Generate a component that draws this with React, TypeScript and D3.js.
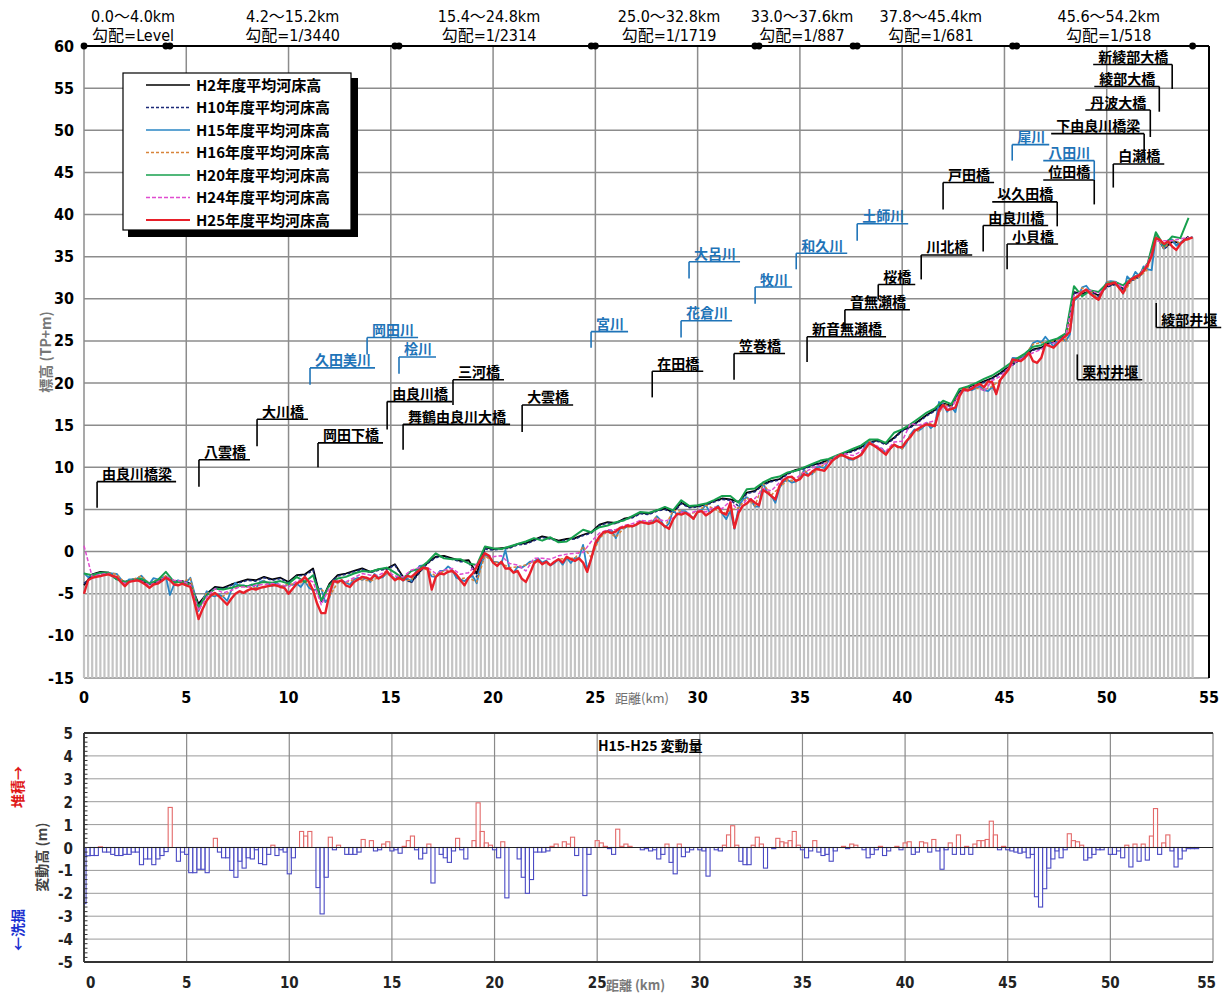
import React from "react";
import * as d3 from "d3";

// ---- river-bed profiles (T.P. m) ----
// H25 and the H15→H25 change are sampled every 0.2 km (0.0 … 54.2 km)
const FINE_STEP = 0.2;
const H25: number[] = [
  -5.0, -3.4, -3.1, -3.0, -2.9, -2.8, -2.7, -2.9, -3.0, -3.6,
  -4.1, -3.6, -3.5, -3.4, -3.6, -3.9, -4.3, -3.9, -3.8, -3.5,
  -3.1, -3.4, -3.9, -4.0, -3.8, -4.0, -4.2, -6.0, -8.0, -6.8,
  -5.8, -5.2, -4.9, -5.3, -5.8, -6.3, -5.6, -5.0, -4.7, -4.9,
  -4.6, -4.4, -4.5, -4.3, -4.2, -4.1, -4.0, -4.0, -4.2, -4.3,
  -5.0, -4.4, -3.8, -3.5, -3.0, -3.6, -4.6, -6.2, -7.3, -7.3,
  -5.0, -3.5, -3.6, -3.4, -4.0, -4.2, -3.6, -3.3, -3.0, -3.1,
  -3.3, -2.8, -3.2, -2.9, -2.3, -2.9, -3.4, -3.1, -3.4, -2.9,
  -3.0, -2.6, -2.2, -1.9, -2.0, -4.5, -3.0, -2.6, -2.7, -2.4,
  -2.3, -2.7, -3.4, -4.0, -3.1, -2.6, -1.8, -0.9, -0.2, -0.5,
  -1.3, -1.7, -1.2, -2.0, -2.0, -2.5, -2.3, -3.2, -3.6, -2.6,
  -1.4, -1.0, -1.5, -1.2, -1.6, -1.2, -0.9, -1.3, -0.6, -0.9,
  -1.1, -0.8, -1.3, -2.4, -0.8, 1.0, 1.8, 2.3, 2.4, 2.2,
  2.4, 2.8, 2.9, 3.1, 3.0, 3.2, 3.5, 3.4, 3.3, 3.4,
  3.7, 3.4, 3.0, 2.7, 3.8, 4.5, 4.4, 4.6, 4.3, 3.9,
  4.7, 4.8, 4.3, 4.6, 5.0, 5.3, 4.6, 4.4, 5.8, 2.8,
  4.6, 5.4, 5.7, 6.2, 5.8, 5.5, 7.3, 7.0, 6.6, 6.2,
  7.8, 8.5, 8.8, 8.9, 8.4, 8.6, 9.2, 9.0, 9.5, 9.8,
  9.7, 9.6, 10.2, 10.8, 11.2, 11.5, 11.3, 11.1, 11.0, 11.2,
  11.5, 12.2, 12.9, 12.6, 12.3, 11.9, 11.5, 12.2, 12.7, 12.4,
  12.4, 13.1, 13.6, 14.3, 14.6, 14.9, 15.1, 15.0, 14.9, 16.8,
  17.4, 16.8, 16.9, 17.1, 18.4, 19.3, 19.1, 19.3, 19.7, 19.9,
  19.5, 20.2, 20.1, 18.7, 20.4, 21.0, 21.6, 22.8, 22.7, 22.6,
  23.0, 23.6, 22.6, 22.4, 23.0, 24.6, 24.4, 24.2, 24.7, 25.2,
  25.6, 26.1, 30.0, 30.3, 30.8, 31.1, 30.6, 30.2, 29.9, 30.9,
  31.7, 31.8, 31.9, 31.3, 30.7, 31.8, 32.3, 32.6, 32.8, 33.3,
  34.0, 35.1, 37.2, 37.0, 36.5, 36.8, 36.2, 35.8, 36.5, 37.0,
  37.1, 37.3,
];

// bed change H15 → H25 (m), + = deposition, − = scour
const CHANGE_H15_H25: number[] = [
  -2.45, -0.36, -0.35, -0.35, 0.03, -0.2, -0.2, -0.3, -0.35, -0.35,
  -0.3, -0.3, -0.2, -0.2, -0.75, -0.5, -0.5, -0.75, -0.5, -0.35,
  -0.18, 1.75, 0, -0.6, -0.2, -0.3, -1.1, -1.1, -0.95, -0.95,
  -1.1, 0, 0.4, -0.2, -0.45, -0.45, -1.0, -1.3, -0.6, -0.9,
  -0.45, -0.5, -0.1, -0.7, -0.75, -0.3, 0.1, -0.35, -0.1, -0.2,
  -1.15, -0.45, 0, 0.7, 0.5, 0.7, 0, -1.75, -2.9, -1.3,
  0.45, -0.1, 0.1, 0, -0.3, -0.3, -0.3, -0.2, 0.35, 0,
  0.3, -0.15, -0.1, 0.15, 0.25, -0.15, -0.1, -0.25, 0.05, 0.3,
  0.5, -0.1, -0.5, -0.25, 0.15, -1.55, 0, -0.3, -0.45, -0.65,
  -0.15, 0.4, -0.1, -0.5, 0, 0.3, 1.95, 0.7, 0.2, 0.1,
  -0.1, -0.45, 0.25, -2.2, 0, 0, -0.5, -1.3, -2.0, -1.4,
  -0.2, -0.2, -0.2, -0.15, 0.05, 0.15, 0, 0.25, 0.15, 0.45,
  -0.35, 0, -2.1, -0.3, 0, 0.3, 0.2, 0.05, -0.05, -0.3,
  0.8, 0.05, 0.15, 0.05, 0, 0, -0.1, -0.05, -0.15, -0.1,
  -0.5, -0.3, 0.15, -0.65, -1.15, 0.15, -0.4, -0.2, -0.1, 0,
  -0.1, -0.15, -1.25, 0, -0.1, -0.15, 0.1, 0.55, 0.95, 0.1,
  -0.6, -0.75, -0.75, 0.1, 0.45, 0.15, -0.9, 0, -0.05, 0.4,
  0.25, 0.2, 0.3, 0.7, 0.1, -0.1, -0.45, -0.15, 0.3, -0.2,
  -0.35, -0.3, -0.6, -0.15, 0, 0.05, -0.05, 0.15, 0.1, 0,
  -0.1, -0.45, -0.3, -0.1, 0.05, -0.35, -0.15, 0, 0.05, -0.1,
  0.2, 0.25, -0.3, -0.2, 0.25, 0.2, -0.2, 0.35, -0.15, -0.95,
  -0.1, 0.2, -0.3, 0.55, -0.3, 0.05, -0.3, 0.15, 0.3, 0.3,
  0.35, 1.15, 0.55, -0.1, 0.05, -0.1, -0.15, -0.2, -0.25, -0.2,
  -0.45, -0.3, -2.15, -2.6, -1.8, -0.9, -0.5, -0.15, -0.45, -0.1,
  0.6, 0.3, 0.25, 0.1, -0.55, -0.45, -0.3, -0.1, -0.1, 0,
  -0.3, -0.3, -0.15, -0.45, 0.1, -0.85, 0.15, -0.6, 0.15, -0.55,
  0.5, 1.7, -0.3, 0.2, 0.55, -0.15, -0.85, -0.5, -0.15, -0.05,
  -0.05, -0.05,
];

// H15 bed = H25 bed minus the surveyed change
const H15: number[] = H25.map((v, i) => +(v - CHANGE_H15_H25[i]).toFixed(2));

// other survey years, sampled every 0.4 km (0.0 … 54.0 km)
const COARSE_STEP = 0.4;
const H2: number[] = [
  -4.0, -2.7, -2.4, -2.5, -3.2, -3.6, -3.3, -3.4, -3.9, -3.5,
  -3.0, -3.5, -3.5, -3.8, -6.2, -5.0, -4.2, -4.3, -3.9, -3.6,
  -3.3, -3.4, -3.0, -3.3, -3.1, -3.6, -2.8, -2.7, -2.0, -5.9,
  -3.8, -2.8, -2.6, -2.3, -2.0, -2.4, -2.1, -2.0, -1.5, -3.0,
  -3.6, -2.4, -1.3, -0.6, -0.5, -0.8, -1.1, -1.0, -2.6, 0.5,
  0.3, 0.4, 0.5, 0.9, 1.0, 1.4, 1.8, 1.6, 1.3, 1.5,
  1.6, 2.0, 2.3, 3.2, 3.5, 3.4, 3.9, 4.1, 4.6, 4.5,
  4.9, 5.1, 4.7, 5.8, 5.3, 5.4, 5.6, 6.0, 6.3, 6.2,
  5.9, 7.0, 7.2, 8.0, 8.4, 8.6, 9.3, 9.7, 9.9, 10.3,
  10.5, 10.9, 11.2, 11.7, 12.0, 12.4, 13.0, 13.2, 12.8, 13.5,
  14.4, 14.8, 15.5, 16.2, 16.8, 17.6, 17.3, 19.0, 19.4, 19.8,
  20.2, 20.6, 21.2, 21.9, 22.6, 23.3, 24.0, 24.2, 24.8, 25.1,
  25.8, 30.8, 30.6, 30.9, 30.4, 31.5, 31.8, 31.2, 32.2, 32.7,
  34.0, 37.6, 36.0, 36.8, 36.6, 37.4,
];
const H10: number[] = [
  -3.8, -2.8, -2.5, -2.6, -3.3, -3.7, -3.4, -3.4, -4.0, -3.6,
  -3.1, -3.6, -3.6, -3.9, -6.4, -5.1, -4.3, -4.4, -4.0, -3.7,
  -3.4, -3.5, -3.1, -3.4, -3.2, -3.7, -2.9, -2.8, -2.2, -6.0,
  -3.9, -2.9, -2.7, -2.4, -2.1, -2.5, -2.2, -2.1, -1.6, -3.1,
  -3.7, -2.5, -1.4, -0.7, -0.6, -0.9, -1.2, -1.2, -3.0, 0.3,
  0.2, 0.3, 0.4, 0.8, 0.9, 1.3, 1.7, 1.5, 1.2, 1.4,
  1.5, 1.9, 2.2, 3.1, 3.4, 3.3, 3.8, 4.0, 4.5, 4.4,
  4.8, 5.0, 4.6, 5.7, 5.2, 5.3, 5.5, 5.9, 6.2, 6.1,
  5.4, 6.9, 7.1, 7.9, 8.3, 8.5, 9.2, 9.6, 9.8, 10.2,
  10.4, 10.8, 11.1, 11.6, 11.9, 12.3, 12.9, 13.1, 12.7, 13.4,
  14.3, 14.7, 15.4, 16.1, 16.7, 17.5, 17.2, 18.9, 19.3, 19.7,
  20.1, 20.5, 21.1, 21.8, 22.5, 23.2, 23.9, 24.1, 24.7, 25.0,
  25.7, 30.7, 30.5, 30.8, 30.3, 31.4, 31.7, 31.1, 32.1, 32.6,
  33.9, 37.5, 35.9, 36.7, 36.5, 37.3,
];
const H16: number[] = [
  -2.6, -2.8, -2.9, -2.5, -2.7, -3.7, -3.3, -2.9, -3.8, -3.3,
  -2.9, -3.8, -3.6, -3.2, -7.0, -4.8, -5.2, -5.3, -4.6, -4.1,
  -4.2, -4.3, -3.5, -4.0, -4.1, -3.9, -3.8, -3.5, -4.5, -4.5,
  -5.3, -3.7, -3.7, -3.3, -3.3, -3.5, -3.1, -2.6, -3.2, -3.4,
  -3.4, -1.8, -2.2, -2.9, -2.3, -2.2, -3.2, -3.1, -3.6, -0.5,
  -1.2, -1.4, -1.9, -1.8, -1.6, -1.2, -1.3, -1.6, -0.9, -0.8,
  -0.8, 0.6, -0.7, 1.6, 2.4, 1.7, 2.8, 3.0, 3.6, 3.4,
  4.1, 2.9, 4.9, 4.8, 4.4, 4.8, 5.5, 5.1, 4.5, 4.9,
  5.2, 6.4, 5.4, 8.1, 6.7, 7.6, 8.5, 8.3, 9.6, 9.2,
  10.0, 10.8, 11.2, 11.4, 10.9, 11.6, 13.1, 12.3, 11.7, 12.6,
  12.2, 13.9, 14.4, 15.3, 15.1, 17.5, 17.2, 18.7, 19.4, 19.4,
  19.2, 19.6, 20.4, 21.8, 22.9, 23.4, 24.6, 24.8, 24.9, 25.1,
  25.0, 29.8, 31.3, 30.9, 30.0, 32.0, 32.0, 30.6, 32.1, 32.6,
  33.5, 37.5, 36.0, 37.0, 36.6, 37.1,
];
const H20: number[] = [
  -2.6, -2.8, -2.5, -2.5, -3.3, -3.6, -3.4, -3.2, -3.8, -3.4,
  -2.4, -3.6, -3.6, -3.9, -6.6, -5.2, -4.4, -4.5, -4.3, -4.0,
  -4.1, -3.8, -3.6, -3.7, -3.5, -3.8, -3.0, -3.6, -2.8, -5.8,
  -4.0, -3.2, -3.0, -2.6, -2.3, -2.4, -2.1, -1.9, -2.5, -3.2,
  -2.3, -2.0, -1.2, -0.2, -0.8, -0.9, -0.9, -1.4, -1.6, 0.6,
  0.4, 0.3, 0.6, 0.9, 1.2, 1.6, 1.3, 1.7, 1.1, 1.2,
  1.9, 2.6, 2.3, 2.9, 3.1, 3.5, 3.7, 4.2, 4.7, 4.6,
  4.9, 5.3, 4.9, 6.1, 5.4, 5.5, 5.7, 6.1, 6.6, 6.6,
  5.8, 7.4, 7.5, 8.2, 8.7, 8.9, 9.4, 9.6, 10.0, 10.4,
  10.8, 11.0, 11.4, 11.8, 12.2, 12.6, 13.3, 13.3, 12.9, 14.1,
  14.5, 15.1, 15.8, 16.5, 17.0, 17.9, 17.5, 19.3, 19.6, 20.0,
  20.5, 20.9, 21.5, 22.2, 22.9, 23.5, 24.3, 24.5, 25.0, 25.3,
  25.9, 31.5, 30.3, 31.0, 30.8, 31.8, 32.0, 31.6, 32.4, 32.9,
  34.2, 37.9, 36.3, 37.4, 37.2, 39.6,
];
const H24: number[] = [
  0.7, -3.0, -2.7, -2.6, -3.1, -3.8, -3.4, -3.5, -4.0, -3.6,
  -3.0, -3.4, -3.5, -3.9, -7.0, -5.4, -4.4, -4.9, -4.6, -4.2,
  -4.2, -4.0, -3.9, -3.8, -3.9, -4.2, -3.5, -3.2, -3.6, -6.3,
  -4.3, -3.4, -3.6, -3.1, -2.6, -2.8, -2.8, -2.3, -2.9, -3.0,
  -2.2, -1.9, -1.9, -2.6, -2.2, -2.0, -2.7, -2.5, -1.5, -0.3,
  -0.6, -0.5, -1.4, -1.6, -2.3, -0.8, -0.8, -0.9, -0.5, -0.3,
  -0.2, -0.1, 1.2, 2.2, 2.6, 2.6, 3.1, 3.3, 3.7, 3.6,
  3.9, 3.6, 4.0, 4.7, 4.5, 4.9, 4.7, 5.3, 5.1, 6.0,
  4.8, 6.2, 6.3, 7.5, 7.2, 8.2, 8.9, 8.7, 9.4, 9.9,
  10.3, 10.5, 11.4, 11.6, 11.4, 11.9, 12.9, 12.5, 11.9, 13.0,
  13.1, 15.2, 15.0, 15.3, 15.5, 17.3, 17.0, 18.7, 19.2, 19.8,
  19.0, 20.3, 20.8, 21.8, 22.6, 23.1, 23.6, 24.0, 24.6, 24.9,
  25.7, 30.4, 30.9, 31.0, 30.6, 31.5, 32.0, 31.3, 32.4, 32.9,
  34.2, 36.8, 36.9, 36.9, 37.1, 37.3,
];

// ---- gradient sections along the top ----
const GRADE_BREAKS_KM = [0, 4.0, 4.2, 15.2, 15.4, 24.8, 25.0, 32.8, 33.0, 37.6, 37.8, 45.4, 45.6, 54.2];
const GRADE_RANGES = ["0.0～4.0km", "4.2～15.2km", "15.4～24.8km", "25.0～32.8km", "33.0～37.6km", "37.8～45.4km", "45.6～54.2km"];
const GRADE_SLOPES = ["勾配=Level", "勾配=1/3440", "勾配=1/2314", "勾配=1/1719", "勾配=1/887", "勾配=1/681", "勾配=1/518"];
const GRADE_LABEL_KM = [2.4, 10.2, 19.8, 28.6, 35.1, 41.4, 50.1];

// ---- bridges / weirs (black) and tributaries (blue) ----
// km: leader position, from: leader start elevation, to: underline elevation, side: text side
type Mark = { name: string; km: number; from: number; to: number; side: "L" | "R" };
const BRIDGES: Mark[] = [
  { name: "由良川橋梁", km: 0.64, from: 5.2, to: 8.3, side: "L" },
  { name: "八雲橋", km: 5.62, from: 7.7, to: 10.9, side: "L" },
  { name: "大川橋", km: 8.46, from: 12.5, to: 15.7, side: "L" },
  { name: "岡田下橋", km: 11.44, from: 10.0, to: 12.9, side: "L" },
  { name: "由良川橋", km: 14.82, from: 14.5, to: 17.8, side: "L" },
  { name: "舞鶴由良川大橋", km: 15.6, from: 12.1, to: 15.1, side: "L" },
  { name: "三河橋", km: 18.04, from: 17.4, to: 20.4, side: "L" },
  { name: "大雲橋", km: 21.42, from: 14.2, to: 17.4, side: "L" },
  { name: "在田橋", km: 27.78, from: 18.3, to: 21.4, side: "L" },
  { name: "笠巻橋", km: 31.78, from: 20.4, to: 23.5, side: "L" },
  { name: "新音無瀬橋", km: 35.35, from: 22.5, to: 25.5, side: "L" },
  { name: "音無瀬橋", km: 37.2, from: 26.3, to: 28.7, side: "L" },
  { name: "桜橋", km: 38.83, from: 29.9, to: 31.7, side: "L" },
  { name: "川北橋", km: 40.93, from: 32.3, to: 35.2, side: "L" },
  { name: "戸田橋", km: 42.0, from: 40.6, to: 43.8, side: "L" },
  { name: "由良川橋", km: 43.96, from: 35.6, to: 38.7, side: "L" },
  { name: "小貝橋", km: 45.13, from: 33.5, to: 36.5, side: "L" },
  { name: "以久田橋", km: 47.58, from: 38.6, to: 41.5, side: "R" },
  { name: "位田橋", km: 49.39, from: 41.2, to: 44.1, side: "R" },
  { name: "白瀬橋", km: 50.32, from: 43.2, to: 46.0, side: "L" },
  { name: "下由良川橋梁", km: 51.83, from: 46.2, to: 49.6, side: "R" },
  { name: "丹波大橋", km: 52.13, from: 49.2, to: 52.4, side: "R" },
  { name: "綾部大橋", km: 52.57, from: 52.2, to: 55.2, side: "R" },
  { name: "新綾部大橋", km: 53.2, from: 54.9, to: 57.8, side: "R" },
  { name: "栗村井堰", km: 48.56, from: 23.4, to: 20.4, side: "L" },
  { name: "綾部井堰", km: 52.42, from: 29.5, to: 26.6, side: "L" },
];
const TRIBUTARIES: Mark[] = [
  { name: "久田美川", km: 11.05, from: 19.8, to: 21.8, side: "L" },
  { name: "岡田川", km: 13.84, from: 23.4, to: 25.4, side: "L" },
  { name: "桧川", km: 15.4, from: 21.1, to: 23.1, side: "L" },
  { name: "宮川", km: 24.79, from: 24.2, to: 26.1, side: "L" },
  { name: "花倉川", km: 29.19, from: 25.4, to: 27.4, side: "L" },
  { name: "大呂川", km: 29.58, from: 32.4, to: 34.4, side: "L" },
  { name: "牧川", km: 32.81, from: 29.4, to: 31.4, side: "L" },
  { name: "和久川", km: 34.82, from: 33.5, to: 35.4, side: "L" },
  { name: "土師川", km: 37.8, from: 36.9, to: 38.9, side: "L" },
  { name: "犀川", km: 45.38, from: 46.4, to: 48.3, side: "L" },
  { name: "八田川", km: 49.39, from: 44.1, to: 46.4, side: "R" },
];

const MAIN_Y_TICKS = [60, 55, 50, 45, 40, 35, 30, 25, 20, 15, 10, 5, 0, -5, -10, -15];
const X_TICKS = [0, 5, 10, 15, 20, 25, 30, 35, 40, 45, 50, 55];
const LOW_Y_TICKS = [5, 4, 3, 2, 1, 0, -1, -2, -3, -4, -5];

type Series = { name: string; values: number[]; step: number; color: string; width: number; dash?: string };
const SERIES: Series[] = [
  { name: "H2年度平均河床高", values: H2, step: COARSE_STEP, color: "#000000", width: 1.8 },
  { name: "H10年度平均河床高", values: H10, step: COARSE_STEP, color: "#1c2a78", width: 1.6, dash: "3,2" },
  { name: "H15年度平均河床高", values: H15, step: FINE_STEP, color: "#2a86c4", width: 1.8 },
  { name: "H16年度平均河床高", values: H16, step: COARSE_STEP, color: "#d8843a", width: 1.5, dash: "3,2" },
  { name: "H20年度平均河床高", values: H20, step: COARSE_STEP, color: "#17a04e", width: 2.0 },
  { name: "H24年度平均河床高", values: H24, step: COARSE_STEP, color: "#e04cd0", width: 1.5, dash: "4,2" },
  { name: "H25年度平均河床高", values: H25, step: FINE_STEP, color: "#e8202a", width: 2.4 },
];

const JP = "'Noto Sans CJK JP', 'Noto Sans', sans-serif";
const NARROW = "'Liberation Sans Narrow', 'DejaVu Sans Condensed', 'Noto Sans CJK JP', sans-serif";
const HEAVY = "'DejaVu Sans Condensed', 'DejaVu Sans', sans-serif";

export default function App() {
  const W = 1229;
  const H = 993;

  const x = d3.scaleLinear().domain([0, 55]).range([84, 1209]);
  const y = d3.scaleLinear().domain([-15, 60]).range([678, 46]);
  const xL = d3.scaleLinear().domain([0, 55]).range([84, 1213]);
  const yL = d3.scaleLinear().domain([-5, 5]).range([962, 733]);

  const gridColor = "#8c8c8c";

  const linePath = (s: Series) =>
    d3
      .line<number>()
      .x((_, i) => x(i * s.step))
      .y((d) => y(d))(s.values) || "";

  const leader = (m: Mark, color: string, key: string) => {
    const vx = x(m.km);
    const y1 = y(m.from);
    const y2 = y(m.to);
    const w = m.name.length * 14 + 9;
    const x0 = m.side === "L" ? vx : vx - w;
    const x1 = m.side === "L" ? vx + w : vx;
    return (
      <g key={key}>
        <line x1={vx} x2={vx} y1={y1} y2={y2} stroke={color} strokeWidth={1.6} />
        <line x1={x0} x2={x1} y1={y2} y2={y2} stroke={color} strokeWidth={1.6} />
        <text
          x={m.side === "L" ? vx + 5 : vx - 4}
          y={y2 - 2.5}
          textAnchor={m.side === "L" ? "start" : "end"}
          fontFamily={JP}
          fontWeight={700}
          fontSize={14}
          fill={color}
        >
          {m.name}
        </text>
      </g>
    );
  };

  const lowMinor = d3.range(-5, 5.001, 0.2);

  return (
    <svg
      width={W}
      height={H}
      viewBox={`0 0 ${W} ${H}`}
      style={{ position: "absolute", left: 0, top: 0, background: "#fff" }}
    >
      <rect x={0} y={0} width={W} height={H} fill="#fff" />

      {/* ===== longitudinal profile ===== */}
      <g>
        {MAIN_Y_TICKS.map((t) => (
          <line key={`hy${t}`} x1={x(0)} x2={x(55)} y1={y(t)} y2={y(t)} stroke={gridColor} strokeWidth={1.5} />
        ))}
        {X_TICKS.map((t) => (
          <line key={`vx${t}`} x1={x(t)} x2={x(t)} y1={y(60)} y2={y(-15)} stroke={gridColor} strokeWidth={1.5} />
        ))}

        {/* river-bed columns under the H25 profile */}
        {H25.map((v, i) => (
          <rect
            key={`col${i}`}
            x={x(i * FINE_STEP) - 1.1}
            y={y(v)}
            width={2.2}
            height={y(-15) - y(v)}
            fill="#c4c4c4"
          />
        ))}

        {SERIES.map((s) => (
          <path
            key={s.name}
            d={linePath(s)}
            fill="none"
            stroke={s.color}
            strokeWidth={s.width}
            strokeDasharray={s.dash}
            strokeLinejoin="round"
          />
        ))}

        {/* frame: top and right edges in black */}
        <line x1={x(0)} x2={x(55)} y1={y(60)} y2={y(60)} stroke="#000" strokeWidth={2} />
        <line x1={x(55)} x2={x(55)} y1={y(60)} y2={y(-15)} stroke="#000" strokeWidth={2} />

        {GRADE_BREAKS_KM.map((k, i) => (
          <circle key={`gb${i}`} cx={x(k)} cy={y(60)} r={3.4} fill="#000" />
        ))}
        {GRADE_RANGES.map((r, i) => (
          <g key={`gr${i}`}>
            <text x={x(GRADE_LABEL_KM[i])} y={22} textAnchor="middle" fontFamily={NARROW} fontSize={16} fill="#000">
              {r}
            </text>
            <text x={x(GRADE_LABEL_KM[i])} y={41} textAnchor="middle" fontFamily={NARROW} fontSize={16} fill="#000">
              {GRADE_SLOPES[i]}
            </text>
          </g>
        ))}

        {MAIN_Y_TICKS.map((t) => (
          <text key={`yl${t}`} x={74} y={y(t) + 5.5} textAnchor="end" fontFamily={NARROW} fontWeight={700} fontSize={16} fill="#000">
            {t}
          </text>
        ))}
        {X_TICKS.map((t) => (
          <text key={`xl${t}`} x={x(t)} y={703} textAnchor="middle" fontFamily={NARROW} fontWeight={700} fontSize={16} fill="#000">
            {t}
          </text>
        ))}
        <text x={615} y={703} fontFamily={JP} fontSize={13} fill="#707070">
          距離(km)
        </text>
        <text
          transform="translate(51,352) rotate(-90)"
          textAnchor="middle"
          fontFamily={JP}
          fontWeight={700}
          fontSize={14}
          fill="#777"
        >
          標高 (TP+m)
        </text>

        {BRIDGES.map((m, i) => leader(m, "#000", `br${i}`))}
        {TRIBUTARIES.map((m, i) => leader(m, "#1f74b8", `tr${i}`))}

        {/* legend */}
        <rect x={128} y={78} width={230} height={159} fill="#000" />
        <rect x={123} y={73} width={228} height={157} fill="#fff" stroke="#000" strokeWidth={1.2} />
        {SERIES.map((s, i) => {
          const ly = 85 + i * 22.5;
          return (
            <g key={`lg${i}`}>
              <line x1={146} x2={190} y1={ly} y2={ly} stroke={s.color} strokeWidth={s.width === 2.4 ? 2 : 1.6} strokeDasharray={s.dash} />
              <text x={196} y={ly + 5.5} fontFamily={JP} fontWeight={700} fontSize={15} fill="#000">
                {s.name}
              </text>
            </g>
          );
        })}
      </g>

      {/* ===== change H15 → H25 ===== */}
      <g>
        {LOW_Y_TICKS.map((t) => (
          <line key={`lh${t}`} x1={xL(0)} x2={xL(55)} y1={yL(t)} y2={yL(t)} stroke="#9a9a9a" strokeWidth={1} />
        ))}
        {X_TICKS.map((t) => (
          <line key={`lv${t}`} x1={xL(t)} x2={xL(t)} y1={yL(5)} y2={yL(-5)} stroke="#8a8a8a" strokeWidth={1.2} />
        ))}

        {CHANGE_H15_H25.map((v, i) => {
          if (v === 0) return null;
          const km = i * FINE_STEP;
          const a = xL(Math.max(0, km - FINE_STEP / 2));
          const b = xL(km + FINE_STEP / 2);
          const y0 = yL(0);
          const yv = yL(v);
          return (
            <rect
              key={`ch${i}`}
              x={a}
              y={Math.min(y0, yv)}
              width={b - a}
              height={Math.abs(yv - y0)}
              fill="#fff"
              fillOpacity={0.6}
              stroke={v > 0 ? "#e36a6a" : "#4a4ac4"}
              strokeWidth={1.1}
            />
          );
        })}
        <line x1={xL(0)} x2={xL(55)} y1={yL(0)} y2={yL(0)} stroke="#222" strokeWidth={1.2} />

        <line x1={xL(0)} x2={xL(55)} y1={yL(5)} y2={yL(5)} stroke="#333" strokeWidth={2.2} />
        <line x1={xL(0)} x2={xL(55)} y1={yL(-5)} y2={yL(-5)} stroke="#333" strokeWidth={1.8} />
        <line x1={xL(0)} x2={xL(0)} y1={yL(5)} y2={yL(-5)} stroke="#333" strokeWidth={1.8} />
        {lowMinor.map((t, i) => (
          <line key={`mt${i}`} x1={xL(0)} x2={xL(0) + 3.5} y1={yL(t)} y2={yL(t)} stroke="#333" strokeWidth={1} />
        ))}

        {LOW_Y_TICKS.map((t) => (
          <text key={`lyl${t}`} x={73} y={yL(t) + 6} textAnchor="end" fontFamily={HEAVY} fontWeight={700} fontSize={15} fill="#222">
            {t}
          </text>
        ))}
        {X_TICKS.map((t) => (
          <text
            key={`lxl${t}`}
            x={t === 0 ? xL(t) + 2 : t === 55 ? xL(t) + 3 : xL(t)}
            y={988}
            textAnchor={t === 0 ? "start" : t === 55 ? "end" : "middle"}
            fontFamily={HEAVY}
            fontWeight={700}
            fontSize={15}
            fill="#222"
          >
            {t}
          </text>
        ))}
        <text x={606} y={990} fontFamily={JP} fontWeight={700} fontSize={13} fill="#7a7a7a">
          距離 (km)
        </text>
        <text x={598} y={751} fontFamily={JP} fontWeight={700} fontSize={14} fill="#000">
          H15-H25 変動量
        </text>

        <text transform="translate(47,857) rotate(-90)" textAnchor="middle" fontFamily={JP} fontWeight={700} fontSize={14} fill="#444">
          変動高 (m)
        </text>
        <text transform="translate(23,787) rotate(-90)" textAnchor="middle" fontFamily={JP} fontWeight={700} fontSize={14} fill="#e01818">
          堆積→
        </text>
        <text transform="translate(23,930) rotate(-90)" textAnchor="middle" fontFamily={JP} fontWeight={700} fontSize={14} fill="#1a30d0">
          ←洗掘
        </text>
      </g>
    </svg>
  );
}
